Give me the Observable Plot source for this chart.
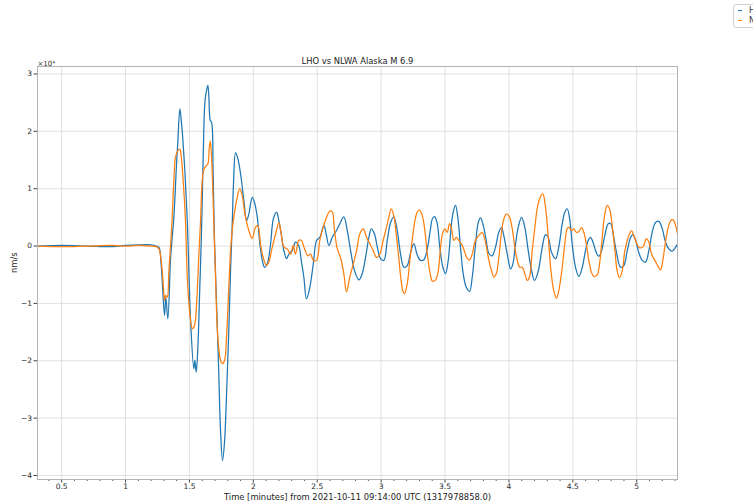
<!DOCTYPE html>
<html>
<head>
<meta charset="utf-8">
<script src="https://cdn.jsdelivr.net/npm/d3@7"></script>
<script src="https://cdn.jsdelivr.net/npm/@observablehq/plot@0.6"></script>
<style>
  body { margin: 0; background: #fff; }
  #chart { position: relative; width: 753px; height: 502px; overflow: hidden; font-family: "DejaVu Sans", sans-serif; }
  .legend { position: absolute; left: 733px; top: 4px; width: 70px; height: 22px; border: 1px solid #cfcfcf; border-radius: 3px; background: #fff; font-size: 8px; color: #333; }
  .legend .row { position: absolute; left: 4px; height: 10px; line-height: 10px; white-space: nowrap; }
  .legend .sw { display: inline-block; width: 4px; height: 0; border-top: 1.3px solid; vertical-align: middle; margin-right: 7px; }
</style>
</head>
<body>
<div id="chart">
  <div class="legend">
    <div class="row" style="top:1px"><span class="sw" style="border-color:#1f77b4"></span>H1</div>
    <div class="row" style="top:11px"><span class="sw" style="border-color:#ff7f0e"></span>NLWA</div>
  </div>
</div>
<script>
// Ground velocity (units of 1e4 nm/s) against time in minutes after 09:14:00 UTC
const lhoTime = [0.311,0.5,0.7,0.9,1.0,1.1,1.2,1.24,1.261,1.279,1.305,1.315,1.331,1.352,1.365,1.378,1.399,1.409,1.425,1.436,1.448,1.464,1.483,1.509,1.534,1.542,1.553,1.566,1.581,1.595,1.608,1.620,1.631,1.644,1.652,1.663,1.673,1.685,1.696,1.712,1.728,1.743,1.759,1.775,1.790,1.806,1.822,1.835,1.845,1.861,1.879,1.900,1.926,1.947,1.965,1.991,2.009,2.031,2.051,2.070,2.088,2.109,2.135,2.156,2.182,2.200,2.218,2.239,2.260,2.278,2.304,2.330,2.356,2.375,2.395,2.416,2.442,2.469,2.495,2.520,2.552,2.570,2.591,2.617,2.651,2.677,2.708,2.735,2.761,2.792,2.826,2.852,2.878,2.904,2.923,2.948,2.970,2.995,3.021,3.048,3.074,3.099,3.126,3.152,3.178,3.204,3.230,3.256,3.282,3.308,3.334,3.361,3.383,3.402,3.420,3.439,3.459,3.483,3.504,3.525,3.543,3.561,3.582,3.600,3.621,3.642,3.666,3.692,3.713,3.739,3.760,3.778,3.799,3.822,3.843,3.869,3.895,3.921,3.942,3.960,3.987,4.013,4.031,4.052,4.073,4.099,4.124,4.151,4.177,4.200,4.228,4.261,4.286,4.308,4.333,4.365,4.390,4.417,4.437,4.456,4.477,4.495,4.521,4.547,4.574,4.599,4.621,4.639,4.657,4.683,4.703,4.725,4.750,4.777,4.797,4.818,4.844,4.873,4.899,4.926,4.952,4.970,4.991,5.016,5.043,5.069,5.095,5.121,5.147,5.173,5.200,5.225,5.251,5.278,5.304,5.319];
const lhoVel = [0.0,0.01,0.0,-0.01,0.01,0.02,0.02,0.0,-0.02,-0.34,-1.21,-0.89,-1.27,-0.22,0.15,0.5,1.43,1.81,2.39,2.19,1.87,1.32,0.44,-1.3,-2.14,-1.99,-2.2,-1.76,-0.72,0.3,1.6,2.48,2.68,2.8,2.59,2.19,2.16,1.3,0.1,-1.0,-2.1,-3.2,-3.74,-3.4,-2.6,-1.6,-0.4,0.4,1.1,1.63,1.52,1.26,0.79,0.44,0.56,0.85,0.76,0.5,0.04,-0.25,-0.37,-0.31,0.04,0.47,0.59,0.44,0.21,-0.08,-0.22,-0.14,-0.08,0.07,0.0,-0.25,-0.54,-0.92,-0.72,-0.31,0.1,0.15,0.36,0.21,0.01,0.15,0.27,0.39,0.51,0.27,-0.08,-0.43,-0.59,-0.48,-0.2,0.15,0.3,0.21,-0.02,-0.22,-0.25,0.1,0.41,0.51,0.27,-0.14,-0.37,-0.34,-0.12,0.04,-0.15,-0.25,-0.24,-0.05,0.25,0.48,0.51,0.39,-0.02,-0.37,-0.48,-0.25,0.21,0.56,0.71,0.5,-0.02,-0.48,-0.72,-0.79,-0.54,0.04,0.41,0.49,0.36,0.1,-0.13,-0.17,-0.02,0.24,0.32,0.18,-0.14,-0.4,-0.31,0.04,0.33,0.5,0.33,-0.08,-0.43,-0.6,-0.45,-0.02,0.2,0.15,-0.11,-0.22,-0.02,0.39,0.59,0.65,0.44,0.04,-0.37,-0.53,-0.37,-0.08,0.1,0.15,0.07,-0.11,-0.18,-0.08,0.18,0.39,0.39,0.18,-0.14,-0.37,-0.34,-0.08,0.15,0.2,0.1,-0.11,-0.25,-0.28,-0.08,0.24,0.41,0.43,0.3,0.07,-0.05,-0.09,-0.02,0.03];

const nlwaTime = [0.311,0.5,0.7,0.9,1.0,1.1,1.2,1.24,1.261,1.287,1.305,1.313,1.326,1.339,1.347,1.365,1.378,1.391,1.409,1.425,1.436,1.451,1.469,1.483,1.503,1.522,1.540,1.556,1.574,1.587,1.600,1.613,1.631,1.644,1.655,1.663,1.673,1.686,1.702,1.722,1.743,1.757,1.775,1.790,1.808,1.824,1.847,1.874,1.894,1.913,1.931,1.947,1.973,1.991,2.017,2.035,2.056,2.077,2.103,2.121,2.148,2.174,2.200,2.218,2.239,2.265,2.291,2.312,2.330,2.356,2.375,2.401,2.426,2.448,2.469,2.495,2.520,2.547,2.573,2.599,2.617,2.635,2.657,2.682,2.708,2.729,2.755,2.782,2.808,2.833,2.860,2.886,2.912,2.938,2.964,2.990,3.016,3.042,3.060,3.079,3.099,3.121,3.140,3.156,3.171,3.183,3.204,3.222,3.243,3.264,3.282,3.300,3.322,3.342,3.363,3.384,3.400,3.426,3.447,3.465,3.483,3.498,3.517,3.535,3.551,3.569,3.588,3.608,3.635,3.655,3.674,3.692,3.713,3.733,3.752,3.770,3.791,3.807,3.822,3.843,3.864,3.882,3.901,3.921,3.942,3.960,3.981,4.005,4.026,4.046,4.065,4.083,4.104,4.124,4.143,4.161,4.182,4.203,4.221,4.239,4.265,4.286,4.308,4.326,4.351,4.372,4.390,4.417,4.437,4.456,4.469,4.490,4.508,4.527,4.547,4.568,4.586,4.605,4.625,4.646,4.664,4.691,4.709,4.730,4.748,4.769,4.787,4.808,4.829,4.847,4.865,4.887,4.907,4.933,4.959,4.977,4.996,5.016,5.038,5.056,5.074,5.095,5.116,5.142,5.168,5.186,5.204,5.225,5.247,5.265,5.283,5.304,5.319];
const nlwaVel = [0.0,-0.01,0.0,0.01,0.0,0.01,0.0,-0.01,-0.05,-0.43,-0.95,-0.86,-0.89,-0.43,-0.17,0.5,1.14,1.55,1.66,1.69,1.55,1.14,0.44,-0.54,-1.18,-1.44,-1.38,-1.0,-0.14,0.44,1.14,1.34,1.4,1.43,1.72,1.83,1.55,0.74,-0.4,-1.59,-1.99,-2.05,-1.99,-1.59,-0.72,0.0,0.5,0.85,1.0,0.88,0.6,0.42,0.21,0.13,0.33,0.36,0.04,-0.2,-0.34,-0.28,-0.02,0.21,0.41,0.21,-0.02,-0.05,-0.14,0.01,-0.14,0.1,0.1,-0.05,-0.17,-0.14,-0.25,-0.25,0.1,0.33,0.5,0.61,0.6,0.27,-0.05,-0.2,-0.48,-0.8,-0.54,-0.31,-0.08,0.21,0.3,0.15,0.04,-0.08,-0.2,-0.14,0.1,0.33,0.5,0.65,0.53,0.15,-0.25,-0.6,-0.79,-0.83,-0.66,-0.31,0.1,0.44,0.59,0.63,0.53,0.27,-0.17,-0.48,-0.61,-0.59,-0.43,-0.02,0.24,0.3,0.24,0.39,0.3,0.1,0.15,0.1,0.01,-0.11,-0.22,-0.24,-0.14,0.07,0.15,0.2,0.24,0.15,0.01,-0.25,-0.43,-0.54,-0.48,-0.2,0.24,0.47,0.56,0.5,0.3,-0.02,-0.25,-0.37,-0.37,-0.48,-0.6,-0.54,-0.08,0.33,0.65,0.82,0.91,0.68,0.15,-0.37,-0.78,-0.91,-0.78,-0.37,0.04,0.3,0.33,0.27,0.3,0.24,0.25,0.32,0.24,0.04,-0.25,-0.46,-0.53,-0.5,-0.31,0.15,0.53,0.71,0.65,0.36,-0.08,-0.43,-0.55,-0.43,-0.08,0.15,0.27,0.18,0.07,-0.02,-0.03,0.01,0.13,0.07,-0.14,-0.25,-0.36,-0.42,-0.25,0.07,0.33,0.44,0.46,0.36,0.21];

const xTicks = [0.5, 1, 1.5, 2, 2.5, 3, 3.5, 4, 4.5, 5];
const xMinorTicks = [0.4,0.6,0.7,0.8,0.9,1.1,1.2,1.3,1.4,1.6,1.7,1.8,1.9,2.1,2.2,2.3,2.4,2.6,2.7,2.8,2.9,3.1,3.2,3.3,3.4,3.6,3.7,3.8,3.9,4.1,4.2,4.3,4.4,4.6,4.7,4.8,4.9,5.1,5.2,5.3];
const yTicks = [-4, -3, -2, -1, 0, 1, 2, 3];

const titleText = "LHO vs NLWA Alaska M 6.9";
const xLabelText = "Time [minutes] from 2021-10-11 09:14:00 UTC (1317978858.0)";
const yLabelText = "nm/s";
const offsetText = "×10⁴";

const lho = lhoTime.map((t, i) => ({t, v: lhoVel[i]}));
const nlwa = nlwaTime.map((t, i) => ({t, v: nlwaVel[i]}));
const fmt = d => (d < 0 ? "\u2212" + Math.abs(d) : String(d));

const plot = Plot.plot({
  width: 753,
  height: 502,
  marginLeft: 37,
  marginRight: 76,
  marginTop: 66,
  marginBottom: 23,
  style: {fontFamily: "DejaVu Sans, sans-serif", fontSize: "7.5px", color: "#262626", background: "#fff"},
  x: {domain: [0.311, 5.319]},
  y: {domain: [-4.07, 3.13]},
  marks: [
    Plot.gridX(xTicks, {stroke: "#dcdcdc", strokeOpacity: 1, strokeWidth: 0.9}),
    Plot.gridY(yTicks, {stroke: "#dcdcdc", strokeOpacity: 1, strokeWidth: 0.9}),
    Plot.axisX(xMinorTicks, {tickSize: 2, tickFormat: () => "", label: null, stroke: "#555"}),
    Plot.axisX(xTicks, {tickSize: 3.5, tickPadding: 1, tickFormat: fmt, label: null, stroke: "#444"}),
    Plot.axisY(yTicks, {tickSize: 3.5, tickPadding: 2, tickFormat: fmt, label: null, stroke: "#444"}),
    Plot.line(lho, {x: "t", y: "v", stroke: "#1f77b4", strokeWidth: 1.25, curve: "catmull-rom"}),
    Plot.line(nlwa, {x: "t", y: "v", stroke: "#ff7f0e", strokeWidth: 1.25, curve: "catmull-rom"}),
    Plot.frame({stroke: "#b3b3b3"}),
    Plot.text([titleText], {frameAnchor: "top", lineAnchor: "bottom", dy: -3, fontSize: 8.4, fill: "#222"}),
    Plot.text([xLabelText], {frameAnchor: "bottom", lineAnchor: "middle", dy: 18, fontSize: 8.4, fill: "#222"}),
    Plot.text([yLabelText], {frameAnchor: "left", dx: -23, rotate: -90, fontSize: 8.4, fill: "#222"}),
    Plot.text([offsetText], {frameAnchor: "top-left", textAnchor: "start", lineAnchor: "bottom", dy: -1, fontSize: 7, fill: "#333"})
  ]
});

document.getElementById("chart").prepend(plot);
</script>
</body>
</html>
